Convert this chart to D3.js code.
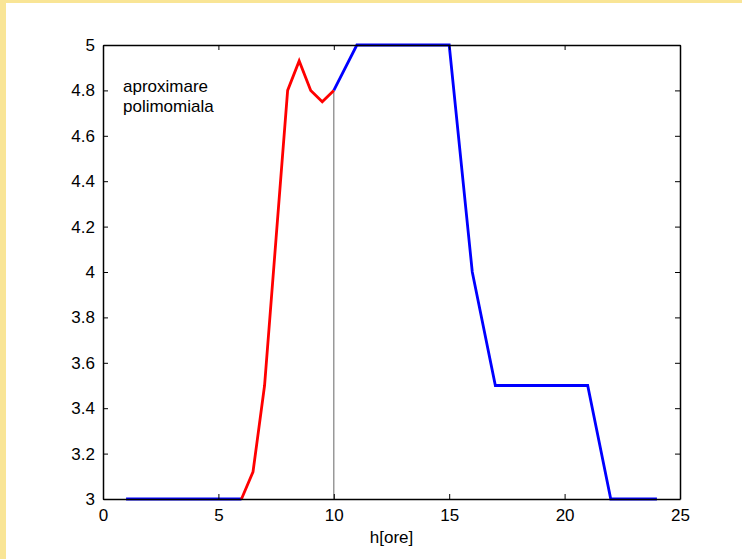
<!DOCTYPE html>
<html><head><meta charset="utf-8">
<script src="https://cdn.jsdelivr.net/npm/d3@7"></script>
<style>html,body{margin:0;padding:0;background:#f9e596;}svg{display:block;}</style>
</head><body>
<script>
// Data
const hours = [1,2,3,4,5,6,7,8,9,10,11,12,13,14,15,16,17,18,19,20,21,22,23,24];
const blueVals = [3,3,3,3,3,3,null,null,null,4.8,5,5,5,5,5,4,3.5,3.5,3.5,3.5,3.5,3,3,3];
const redX = [6,6.5,7,7.5,8,8.5,9,9.5,10];
const redVals = [3,3.12,3.5,4.15,4.8,4.93,4.8,4.75,4.8];
const xTicks = [0,5,10,15,20,25];
const yTicks = [3,3.2,3.4,3.6,3.8,4,4.2,4.4,4.6,4.8,5];
const annotation = ["aproximare","polimomiala"];
const xLabel = "h[ore]";
const markerX = 10, markerY = 4.8;

const W = 742, H = 559;
const svg = d3.select("body").append("svg").attr("width", W).attr("height", H);
svg.append("rect").attr("x",6).attr("y",3).attr("width",W-6).attr("height",H-3).attr("fill","#fff");

const L = 103, R = 680, T = 45, B = 499;
const x = d3.scaleLinear().domain([0,25]).range([L,R]);
const y = d3.scaleLinear().domain([3,5]).range([B,T]);
const font = "Liberation Sans, Arial, sans-serif";

// vertical grey line
svg.append("line").attr("x1",x(markerX)).attr("x2",x(markerX)).attr("y1",y(3)).attr("y2",y(markerY))
  .attr("stroke","#808080").attr("stroke-width",1.2);

// Blue line
const lineB = d3.line().defined(d=>d[1]!==null).x(d=>x(d[0])).y(d=>y(d[1]));
svg.append("path").datum(hours.map((h,i)=>[h,blueVals[i]])).attr("d",lineB)
  .attr("fill","none").attr("stroke","#0000ff").attr("stroke-width",2.8);
// Red line
const lineR = d3.line().x(d=>x(d[0])).y(d=>y(d[1]));
svg.append("path").datum(redX.map((h,i)=>[h,redVals[i]])).attr("d",lineR)
  .attr("fill","none").attr("stroke","#ff0000").attr("stroke-width",2.8);

// Axes (ticks inside)
const tl = 5;
svg.append("g").attr("transform",`translate(0,${B})`)
  .call(d3.axisBottom(x).tickValues(xTicks).tickSizeInner(-tl).tickSizeOuter(0).tickPadding(10).tickFormat(d3.format("d")));
svg.append("g").attr("transform",`translate(0,${T})`)
  .call(d3.axisTop(x).tickValues(xTicks).tickSizeInner(-tl).tickSizeOuter(0).tickFormat(""));
svg.append("g").attr("transform",`translate(${L},0)`)
  .call(d3.axisLeft(y).tickValues(yTicks).tickSizeInner(-tl).tickSizeOuter(0).tickPadding(8).tickFormat(d=>d3.format("")(+d.toFixed(1))));
svg.append("g").attr("transform",`translate(${R},0)`)
  .call(d3.axisRight(y).tickValues(yTicks).tickSizeInner(-tl).tickSizeOuter(0).tickFormat(""));
svg.selectAll(".domain").attr("stroke","#000").attr("stroke-width",1.5);
svg.selectAll(".tick line").attr("stroke","#000");
svg.selectAll(".tick text").attr("font-family",font).attr("font-size",17).attr("fill","#000");

// annotation
svg.append("text").attr("x",123).attr("y",92).attr("font-family",font).attr("font-size",17).text(annotation[0]);
svg.append("text").attr("x",123).attr("y",112).attr("font-family",font).attr("font-size",17).text(annotation[1]);

// x label
svg.append("text").attr("x",(L+R)/2).attr("y",543).attr("text-anchor","middle")
  .attr("font-family",font).attr("font-size",17).text(xLabel);
</script>
</body></html>
